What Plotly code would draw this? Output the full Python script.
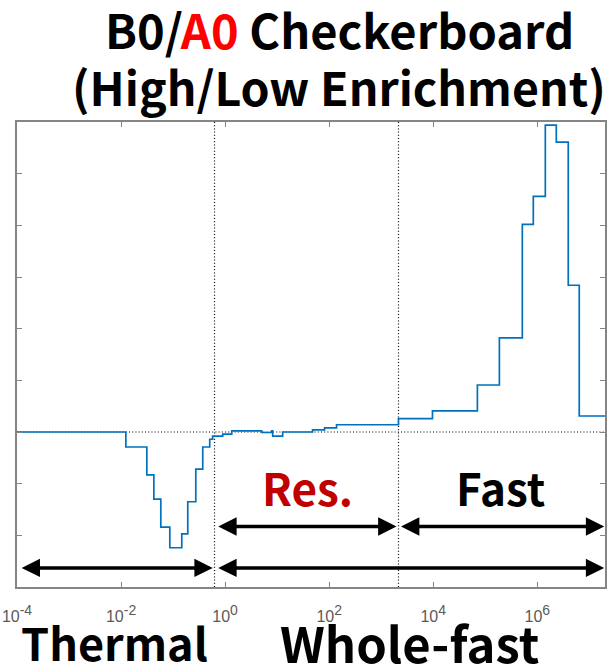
import plotly.graph_objects as go

# Step curve: bin edges (log10 of energy in eV) and bin values (arbitrary units)
edges_log = [-4.0, -1.908, -1.505, -1.370, -1.236, -1.063, -0.833, -0.718, -0.564, -0.430,
             -0.296, -0.240, -0.046, 0.127, 0.703, 0.895, 0.914, 1.106, 1.681, 1.912,
             2.142, 3.332, 3.985, 4.848, 5.271, 5.712, 5.923, 6.154, 6.365, 6.595,
             6.806, 7.301]
values = [0.0, -0.29, -0.83, -1.30, -1.84, -2.24, -1.97, -1.35, -0.72, -0.29,
          -0.14, -0.08, -0.04, 0.02, -0.01, 0.02, -0.08, 0.0, 0.04, 0.08,
          0.14, 0.26, 0.41, 0.91, 1.82, 4.02, 4.56, 5.94, 5.61, 2.84,
          0.31]

# Region boundaries (eV, log10)
thermal_cut_log = -0.204
res_fast_cut_log = 3.332

x_tick_logs = [-4, -2, 0, 2, 4, 6]
x_tick_exps = ["-4", "-2", "0", "2", "4", "6"]
y_range = [-3, 6]
x_range_log = [-4.0, 7.301]

x_tick_text = ['10<sup><span style="font-size:14px">%s</span></sup>' % e for e in x_tick_exps]

energies = [10 ** e for e in edges_log]
step_y = values + [values[-1]]

W, H = 608, 665
L, R, T, B = 17, 1, 122, 78
pw, ph = W - L - R, H - T - B

def px(xp):
    return (xp - L) / pw

def py(yp):
    return (H - B - yp) / ph

fig = go.Figure()

dot = dict(color="black", width=1.2, dash="1px,2.2px")
# dotted reference lines
fig.add_trace(go.Scatter(x=[10 ** x_range_log[0], 10 ** x_range_log[1]], y=[0, 0],
                         mode="lines", line=dot, hoverinfo="skip", showlegend=False))
for c in [thermal_cut_log, res_fast_cut_log]:
    fig.add_trace(go.Scatter(x=[10 ** c, 10 ** c], y=y_range, mode="lines",
                             line=dot, hoverinfo="skip", showlegend=False))

fig.add_trace(go.Scatter(x=energies, y=step_y, mode="lines", line_shape="hv",
                         line=dict(color="#0072BD", width=1.7), showlegend=False))

axcol = "#858585"
fig.update_xaxes(type="log", range=x_range_log, tickvals=[10 ** v for v in x_tick_logs],
                 ticktext=x_tick_text, ticks="inside", ticklen=5, tickcolor=axcol,
                 showline=True, linecolor=axcol, linewidth=1.6, mirror="ticks",
                 showgrid=False, zeroline=False, ticklabelstandoff=14,
                 tickfont=dict(family="Liberation Sans, Arial", size=16, color="#5a5a5a"))
fig.update_yaxes(range=y_range, dtick=1, ticks="inside", ticklen=5, tickcolor=axcol,
                 showline=True, linecolor=axcol, linewidth=1.6, mirror="ticks",
                 showgrid=False, zeroline=False, showticklabels=False)

# arrows (double-headed)
arrows = [
    (-3.94, -0.238, -2.63),   # Thermal
    (-0.161, 7.286, -2.63),   # Whole-fast
    (-0.161, 3.294, -1.83),   # Res.
    (3.351, 7.286, -1.83),    # Fast
]
for x0, x1, yy in arrows:
    fig.add_annotation(x=x1, y=yy, ax=x0, ay=yy, xref="x", yref="y", axref="x", ayref="y",
                       text="", showarrow=True, arrowhead=2, startarrowhead=2,
                       arrowside="end+start", arrowsize=1.05, startarrowsize=1.05,
                       arrowwidth=3.5, arrowcolor="black")

font_fam = "Noto Sans CJK KR, Open Sans, sans-serif"
texts = [
    ("<b>B0/<span style='color:#ff0000'>A0</span> Checkerboard</b>", 341, 28, "black", 47),
    ("<b>(High/Low Enrichment)</b>", 340, 85, "black", 46.5),
    ("<b>Res.</b>", 308, 487, "#c00000", 44),
    ("<b>Fast</b>", 502, 487, "black", 44),
    ("<b>Thermal</b>", 115, 641, "black", 45),
    ("<b>Whole-fast</b>", 411, 641, "black", 49),
]
for t, xp, yp, col, sz in texts:
    fig.add_annotation(x=px(xp), y=py(yp), xref="paper", yref="paper", text=t,
                       showarrow=False, xanchor="center", yanchor="middle",
                       font=dict(family=font_fam, size=sz, color=col))

fig.update_layout(width=W, height=H, margin=dict(l=L, r=R, t=T, b=B),
                  plot_bgcolor="white", paper_bgcolor="white")

fig.write_html("out.html")
